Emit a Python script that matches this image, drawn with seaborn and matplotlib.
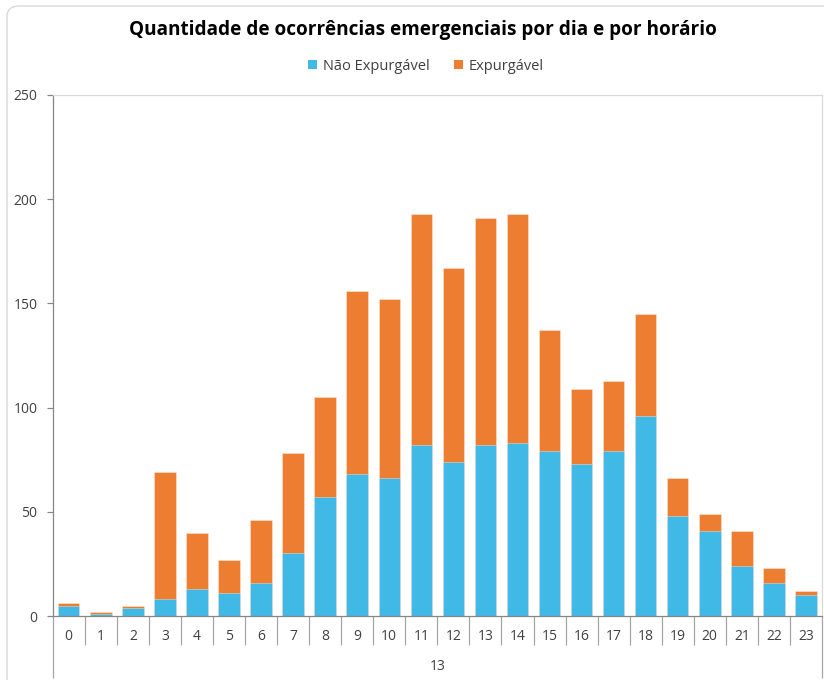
import matplotlib
matplotlib.use("Agg")
import matplotlib.pyplot as plt
import matplotlib.transforms as mtransforms
from matplotlib.patches import Patch, FancyBboxPatch
import seaborn as sns
import pandas as pd

# ---- data ----
hours = [str(h) for h in range(24)]
nao_expurgavel = [5, 1, 4, 8, 13, 11, 16, 30, 57, 68, 66, 82, 74, 82, 83, 79, 73, 79, 96, 48, 41, 24, 16, 10]
expurgavel = [1, 1, 1, 61, 27, 16, 30, 48, 48, 88, 86, 111, 93, 109, 110, 58, 36, 34, 49, 18, 8, 17, 7, 2]
group_label = "13"
title = "Quantidade de ocorrências emergenciais por dia e por horário"
series_names = ["Não Expurgável", "Expurgável"]
y_ticks = [0, 50, 100, 150, 200, 250]

BLUE = "#41B9E6"
ORANGE = "#ED7D31"
TEXT = "#404040"

df = pd.DataFrame({"hora": hours, "nao": nao_expurgavel, "exp": expurgavel})
df["total"] = df["nao"] + df["exp"]

sns.set_style("white")
plt.rcParams["font.family"] = ["Open Sans", "DejaVu Sans"]

fig = plt.figure(figsize=(8.24, 6.8), dpi=100)
W, H = 824, 680
ax = fig.add_axes([52.7 / W, 1 - 616 / H, (822 - 52.7) / W, (616 - 95) / H])

# outer chart border
border = FancyBboxPatch((7 / W, 1 - 700 / H), 840 / W, 694 / H,
                        boxstyle="round,pad=0,rounding_size=0.015",
                        transform=fig.transFigure, fill=False,
                        edgecolor="#D9D9D9", linewidth=1.0, clip_on=False)
fig.patches.append(border)

# stacked bars: full total in orange, blue base drawn over it
sns.barplot(data=df, x="hora", y="total", color=ORANGE, saturation=1,
            width=0.67, edgecolor=(1, 1, 1, 0.35), linewidth=0.7, ax=ax)
sns.barplot(data=df, x="hora", y="nao", color=BLUE, saturation=1,
            width=0.67, edgecolor=(1, 1, 1, 0.35), linewidth=0.7, ax=ax)

ax.set_xlim(-0.5, len(hours) - 0.5)
ax.set_ylim(0, 250)
ax.set_yticks(y_ticks)
ax.set_xlabel("")
ax.set_ylabel("")

for s in ["top", "right"]:
    ax.spines[s].set_color("#D9D9D9")
    ax.spines[s].set_linewidth(0.9)
ax.spines["left"].set_color("#868686")
ax.spines["bottom"].set_color("#868686")
ax.spines["left"].set_linewidth(0.9)
ax.spines["bottom"].set_linewidth(0.9)

ax.tick_params(axis="y", left=True, length=4, width=0.9, color="#868686",
               pad=7, labelsize=10, labelcolor=TEXT)
ax.tick_params(axis="x", bottom=False, length=0, pad=9, labelsize=10,
               labelcolor=TEXT)

# category separators below the axis
trans = mtransforms.blended_transform_factory(ax.transData, ax.transAxes)
short = -(645 - 616) / 521
long_ = -(678 - 616) / 521
for i in range(len(hours) + 1):
    x = i - 0.5
    y1 = long_ if i in (0, len(hours)) else short
    ax.plot([x, x], [0, y1], transform=trans, color="#A6A6A6", lw=0.9,
            clip_on=False, solid_capstyle="butt")

ax.text((len(hours) - 1) / 2, -(666 - 616) / 521, group_label, transform=trans,
        ha="center", va="center", fontsize=10, color=TEXT)

fig.text(0.5 * (127 + 718) / W, 1 - 30.5 / H, title, ha="center", va="center",
         fontsize=13.7, fontweight="bold", color="#000000")

handles = [Patch(facecolor=BLUE, edgecolor="none"), Patch(facecolor=ORANGE, edgecolor="none")]
fig.legend(handles, series_names, loc="center", bbox_to_anchor=(426 / W, 1 - 66.5 / H),
           ncol=2, frameon=False, fontsize=10.5, handlelength=0.6, handleheight=0.6,
           handletextpad=0.4, columnspacing=1.7, labelcolor=TEXT)

fig.savefig("out.png", dpi=100)
